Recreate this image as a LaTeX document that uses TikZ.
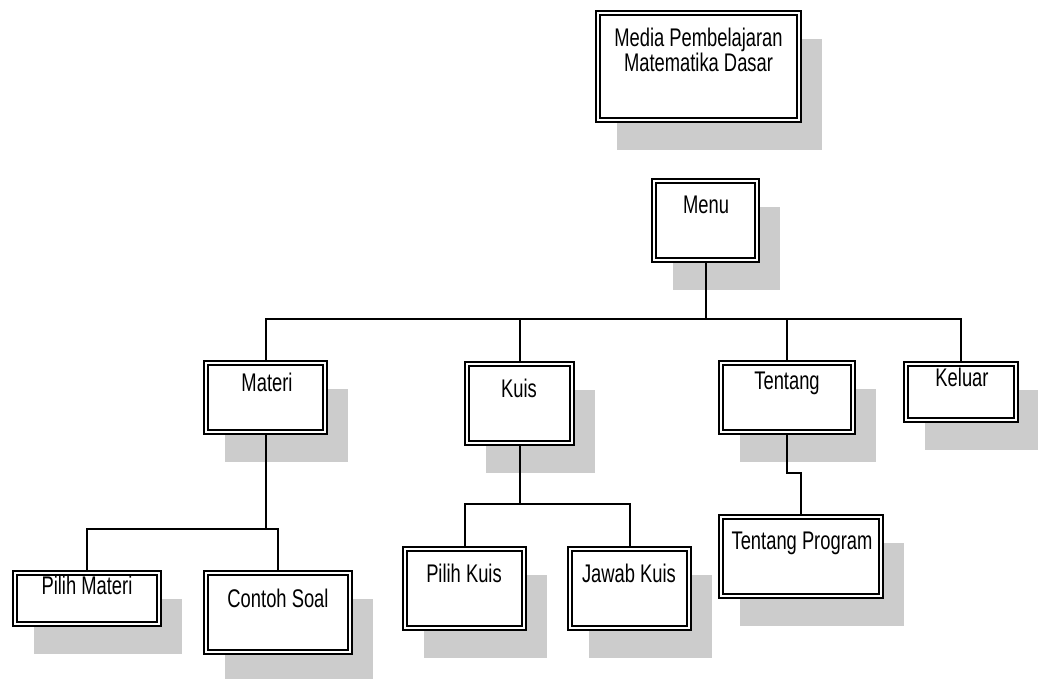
\documentclass[tikz,border=0pt]{standalone}
\usepackage{fontspec}
\setmainfont{Liberation Sans}[FakeStretch=0.72]
\usetikzlibrary{shadows}
\begin{document}
\begin{tikzpicture}[x=1pt,y=1pt,
  box/.style={draw=black, fill=white, line width=2.4pt, inner sep=0pt,
    drop shadow={shadow xshift=21pt, shadow yshift=-28pt, fill=black!20, opacity=1},
    path picture={\draw[line width=1.5pt]
      ([shift={(4pt,-4pt)}]path picture bounding box.north west) rectangle
      ([shift={(-4pt,4pt)}]path picture bounding box.south east);}},
  lbl/.style={font=\fontsize{25.5}{25}\selectfont, inner sep=0pt, align=center},
  conn/.style={line width=2pt, line cap=rect}]
\useasboundingbox (0,0) rectangle (1038,-678);
% boxes
\node[box, minimum width=205, minimum height=111] (media) at (698.5,-66.5) {};
\node[box, minimum width=107, minimum height=83] (menu) at (705.5,-220.5) {};
\node[box, minimum width=123, minimum height=73] (materi) at (265.5,-397.5) {};
\node[box, minimum width=109, minimum height=83] (kuis) at (519.5,-403.5) {};
\node[box, minimum width=136, minimum height=73] (tentang) at (787,-397.5) {};
\node[box, minimum width=114, minimum height=60] (keluar) at (961,-392) {};
\node[box, minimum width=148, minimum height=55] (pmateri) at (87,-598.5) {};
\node[box, minimum width=148, minimum height=83] (contoh) at (278,-612.5) {};
\node[box, minimum width=123, minimum height=83] (pkuis) at (464.5,-588.5) {};
\node[box, minimum width=123, minimum height=83] (jawab) at (629.5,-588.5) {};
\node[box, minimum width=164, minimum height=83] (tprog) at (801,-556.5) {};
% texts
\node[lbl] (tmedia) at (698.5,-50) {Media Pembelajaran\\Matematika Dasar};
\node[lbl] (tmenu) at (706,-205) {Menu};
\node[lbl] (tmateri) at (267,-382) {Materi};
\node[lbl] (tkuis) at (519,-388) {Kuis};
\node[lbl] (ttentang) at (787,-383) {Tentang};
\node[lbl] (tkeluar) at (962,-377) {Keluar};
\node[lbl] (tpmateri) at (87,-585) {Pilih Materi};
\node[lbl] (tcontoh) at (278,-598) {Contoh Soal};
\node[lbl] (tpkuis) at (464,-573) {Pilih Kuis};
\node[lbl] (tjawab) at (629,-573) {Jawab Kuis};
\node[lbl] (ttprog) at (802,-543) {Tentang Program};
% connectors
\coordinate (busL) at (265.5,-319);
\coordinate (busR) at (961,-319);
\draw[conn] (busL) -- (busR);
\draw[conn] (menu.south) -- (menu.south |- busL);
\draw[conn] (materi.north) -- (materi.north |- busL);
\draw[conn] (kuis.north) -- (kuis.north |- busL);
\draw[conn] (tentang.north) -- (tentang.north |- busL);
\draw[conn] (keluar.north) -- (keluar.north |- busL);
\coordinate (mbus) at (0,-529);
\draw[conn] (materi.south) -- (materi.south |- mbus);
\draw[conn] (pmateri.north) |- (contoh.north |- mbus) -- (contoh.north);
\coordinate (kbus) at (0,-504);
\draw[conn] (kuis.south) -- (kuis.south |- kbus);
\draw[conn] (pkuis.north) |- (jawab.north |- kbus) -- (jawab.north);
\draw[conn] (tentang.south) |- ([yshift=41pt]tprog.north) -- (tprog.north);
\end{tikzpicture}
\end{document}
